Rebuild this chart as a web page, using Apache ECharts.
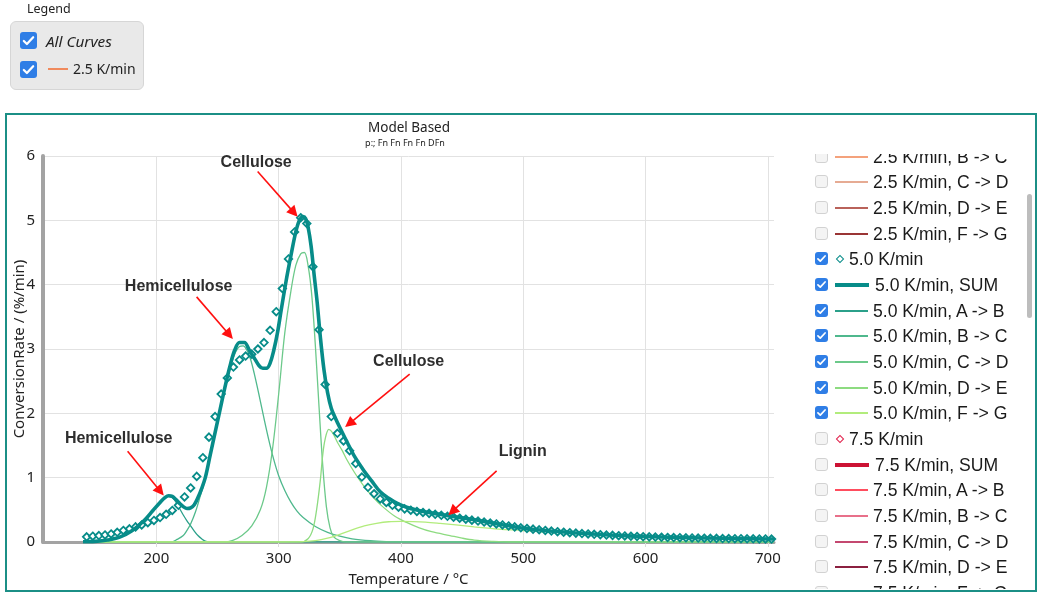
<!DOCTYPE html>
<html><head><meta charset="utf-8">
<script src="https://cdn.jsdelivr.net/npm/echarts@6/dist/echarts.min.js"></script>
<style>
html,body{margin:0;padding:0;background:#fff;width:1038px;height:595px;overflow:hidden;font-family:"Noto Sans",sans-serif;}
#chart{position:absolute;left:0;top:0;width:1038px;height:595px;}
#frame{position:absolute;left:5px;top:113px;width:1028px;height:475px;border:2px solid #1b8f86;pointer-events:none;}
#legTitle{position:absolute;left:27px;top:0px;font-size:12.5px;color:#222;line-height:17px;}
#legBox{position:absolute;left:10px;top:21px;width:134px;height:69px;background:#e9e9e9;border:1px solid #d6d6d6;border-radius:6px;box-sizing:border-box;}
.cb{position:absolute;box-sizing:border-box;border-radius:3px;}
.cb.on{background:#2f7ee6;}
.cb.off{background:#f4f4f4;border:1px solid #d2d2d2;}
.cb svg{position:absolute;left:0;top:0;width:100%;height:100%;}
.txt{position:absolute;white-space:nowrap;color:#222;}
.ln{position:absolute;}
.dia{position:absolute;box-sizing:border-box;background:#fff;transform:rotate(45deg);}
#rleg{position:absolute;left:800px;top:154px;width:225px;height:435px;overflow:hidden;}
#scroll{position:absolute;left:1027px;top:194px;width:5px;height:124px;background:#bdbdbd;border-radius:3px;}
</style></head>
<body>
<div id="chart"></div>
<div id="frame"></div>
<div id="legTitle">Legend</div>
<div id="legBox"></div>
<div id="rleg"></div>
<div id="scroll"></div>
<script>
// ---------- data ----------
const measuredT = [143,148,153,158,163,168,173,178,183,188,
193,198,203,208,213,218,223,228,233,238,
243,248,253,258,263,268,273,278,283,288,
293,298,303,308,313,318,323,328,333,338,
343,348,353,358,363,368,373,378,383,388,
393,398,403,408,413,418,423,428,433,438,
443,448,453,458,463,468,473,478,483,488,
493,498,503,508,513,518,523,528,533,538,
543,548,553,558,563,568,573,578,583,588,
593,598,603,608,613,618,623,628,633,638,
643,648,653,658,663,668,673,678,683,688,
693,698,703];
const measuredRate = [0.08,0.09,0.10,0.11,0.125,0.15,0.18,0.205,0.235,0.265,
0.30,0.335,0.38,0.43,0.49,0.57,0.70,0.84,1.02,1.31,
1.63,1.95,2.30,2.55,2.72,2.83,2.89,2.92,3.00,3.10,
3.29,3.58,3.94,4.40,4.82,5.04,4.95,4.28,3.30,2.45,
1.95,1.69,1.57,1.42,1.22,1.01,0.85,0.75,0.67,0.615,
0.57,0.54,0.515,0.495,0.475,0.46,0.445,0.43,0.415,0.40,
0.385,0.37,0.355,0.34,0.325,0.31,0.295,0.28,0.265,0.25,
0.235,0.22,0.21,0.20,0.19,0.18,0.17,0.16,0.152,0.145,
0.138,0.131,0.125,0.119,0.113,0.108,0.103,0.098,0.094,0.09,
0.086,0.083,0.08,0.077,0.074,0.071,0.069,0.067,0.065,0.063,
0.061,0.059,0.057,0.056,0.054,0.053,0.052,0.051,0.05,0.049,
0.048,0.047,0.046];

const sumT = [140,150,160,170,180,190,197,203,207,210,213,216,219,222,225,228,231,234,237,240,244,248,252,256,260,264,268,272,276,280,284,287,290,293,296,299,302,306,310,314,317,320,322,324,326.5,329,331.5,334,337,340,343,346.5,350,356,362,370,376,383,390,397,404,412,420,430,440,450,460,470,480,490,500,520,540,560,580,600,625,650,675,705];
const sumRate = [0.005,0.01,0.03,0.075,0.175,0.335,0.485,0.615,0.69,0.72,0.71,0.66,0.6,0.55,0.52,0.53,0.58,0.69,0.83,1.0,1.35,1.7,2.05,2.4,2.72,2.98,3.1,3.1,2.98,2.86,2.74,2.7,2.7,2.78,2.98,3.25,3.6,4.05,4.45,4.82,5.0,5.06,5.03,4.9,4.6,4.15,3.72,3.2,2.68,2.32,2.08,1.92,1.78,1.55,1.33,1.1,0.95,0.78,0.68,0.6,0.545,0.5,0.465,0.435,0.405,0.375,0.345,0.31,0.275,0.245,0.215,0.175,0.145,0.12,0.1,0.085,0.072,0.062,0.054,0.046];

const abT = [140,150,160,170,180,190,197,203,207,210,213,216,219,222,225,228,231,234,237,240,244,260,705];
const abRate = [0,0.005,0.025,0.07,0.17,0.33,0.48,0.61,0.68,0.71,0.69,0.62,0.52,0.42,0.33,0.25,0.17,0.10,0.05,0.015,0,0,0];

const bcT = [140,200,212,217,222,225,228,232,236,240,244,248,252,256,260,264,268,271,274,277,280,284,288,292,296,300,305,310,315,320,330,340,350,360,375,390,400,705];
const bcRate = [0,0,0,0.04,0.1,0.18,0.28,0.47,0.72,0.98,1.32,1.68,2.03,2.38,2.68,2.92,3.04,3.05,2.98,2.84,2.62,2.28,1.92,1.58,1.28,1.03,0.8,0.62,0.48,0.38,0.24,0.15,0.09,0.05,0.02,0.005,0,0];

const cdT = [140,245,255,262,270,278,285,290,295,300,305,310,314,318,321,324,327,330,333,336,339,342,345,350,355,705];
const cdRate = [0,0,0,0.02,0.1,0.25,0.5,0.85,1.45,2.3,3.25,3.9,4.3,4.48,4.5,4.3,3.85,3.05,2.1,1.2,0.55,0.22,0.08,0.02,0,0];

const deT = [140,310,318,324,328,331,334,336,338,341,344,348,352,356,362,370,378,385,395,405,415,425,440,450,460,475,490,705];
const deRate = [0,0,0,0.05,0.2,0.5,0.95,1.35,1.6,1.75,1.7,1.55,1.42,1.27,1.08,0.86,0.68,0.55,0.4,0.3,0.22,0.16,0.1,0.06,0.03,0.01,0,0];

const fgT = [140,300,320,330,340,350,360,370,380,390,400,410,420,432,445,460,480,500,520,540,560,580,600,625,650,675,705];
const fgRate = [0,0,0.005,0.02,0.06,0.12,0.19,0.25,0.29,0.315,0.32,0.318,0.31,0.29,0.265,0.235,0.2,0.178,0.15,0.125,0.105,0.09,0.077,0.063,0.05,0.04,0.03];

const componentNames = ['5.0 K/min, A -> B','5.0 K/min, B -> C','5.0 K/min, C -> D','5.0 K/min, D -> E','5.0 K/min, F -> G'];

const annotationText = ['Cellulose','Hemicellulose','Cellulose','Hemicellulose','Lignin'];
const annotationAt = [[281.6,5.89],[218.2,3.975],[406.3,2.80],[169.2,1.615],[499.5,1.40]];
const arrowFrom = [[282.8,5.76],[232.9,3.81],[407.1,2.61],[176.5,1.41],[478.2,1.105]];
const arrowTo = [[312.5,5.12],[259.6,3.22],[357.8,1.84],[203.2,0.79],[442.0,0.475]];

// legend entries (right panel)
const legendLabels = ['2.5 K/min, B -> C','2.5 K/min, C -> D','2.5 K/min, D -> E','2.5 K/min, F -> G',
'5.0 K/min','5.0 K/min, SUM','5.0 K/min, A -> B','5.0 K/min, B -> C','5.0 K/min, C -> D','5.0 K/min, D -> E','5.0 K/min, F -> G',
'7.5 K/min','7.5 K/min, SUM','7.5 K/min, A -> B','7.5 K/min, B -> C','7.5 K/min, C -> D','7.5 K/min, D -> E','7.5 K/min, F -> G'];
const legendKinds = ['line','line','line','line','marker','sum','line','line','line','line','line','marker','sum','line','line','line','line','line'];
const legendChecked = [0,0,0,0,1,1,1,1,1,1,1,0,0,0,0,0,0,0];

// ---------- styles ----------
const TEAL = '#078c89';
const compColors = ['#2ba08a','#4fb88d','#6cc98a','#8ddb80','#b2ec7c'];
const legendColors = ['#f4a27c','#e6ab93','#b9625a','#9a3535',
TEAL,TEAL,'#2ba08a','#4fb88d','#6cc98a','#8ddb80','#b2ec7c',
'#e0204a','#cc1234','#ff4d5e','#e8708a','#c44870','#8b2040','#6b1030'];

const CHECK = '<svg viewBox="0 0 16 16"><path d="M3.6 8.4l2.9 2.9 5.9-6.4" stroke="#fff" stroke-width="2.1" fill="none" stroke-linecap="round" stroke-linejoin="round"/></svg>';
function cb(on, x, y, s){ return '<span class="cb '+(on?'on':'off')+'" style="left:'+x+'px;top:'+y+'px;width:'+s+'px;height:'+s+'px">'+(on?CHECK:'')+'</span>'; }

// top-left legend
document.getElementById('legBox').innerHTML =
  cb(1,9,10,17) + '<span class="txt" style="left:35px;top:9px;font-size:15.3px;font-style:italic;line-height:20px">All Curves</span>' +
  cb(1,9,39,17) + '<span class="ln" style="left:37px;top:46px;width:20px;height:2px;background:#f08a5d"></span>' +
  '<span class="txt" style="left:62px;top:37px;font-size:14px;line-height:20px">2.5 K/min</span>';

// right legend (container top = 154 page px)
(function(){
  let h='';
  const step=25.67, c0=1.5;
  legendLabels.forEach((lab,i)=>{
    const cy=Math.round(c0+i*step);
    h+=cb(legendChecked[i],15,cy-6,13);
    const col=legendColors[i];
    let tx=73;
    if(legendKinds[i]==='line'){
      h+='<span class="ln" style="left:35px;top:'+(cy)+'px;width:33px;height:1.5px;background:'+col+'"></span>';
    } else if(legendKinds[i]==='sum'){
      h+='<span class="ln" style="left:35px;top:'+(cy-1)+'px;width:34px;height:4px;background:'+col+'"></span>';
      tx=75;
    } else {
      h+='<span class="dia" style="left:37px;top:'+(cy-2)+'px;width:6px;height:6px;border:1.6px solid '+col+'"></span>';
      tx=49;
    }
    h+='<span class="txt" style="left:'+tx+'px;top:'+(cy-11)+'px;font-family:\'Liberation Sans\',sans-serif;font-size:17.6px;line-height:24px;color:#1a1a1a">'+lab+'</span>';
  });
  document.getElementById('rleg').innerHTML=h;
})();

// ---------- chart ----------
const zip=(a,b)=>a.map((v,i)=>[v,b[i]]);
const compT=[abT,bcT,cdT,deT,fgT], compR=[abRate,bcRate,cdRate,deRate,fgRate];

const series=[];
componentNames.forEach((n,i)=>{
  series.push({name:n,type:'line',data:zip(compT[i],compR[i]),showSymbol:false,symbol:'none',smooth:0.35,
    lineStyle:{color:compColors[i],width:1.3},itemStyle:{color:compColors[i]},z:2,silent:true});
});
series.push({name:'5.0 K/min',type:'scatter',data:zip(measuredT,measuredRate),symbol:'diamond',symbolSize:7.5,
  itemStyle:{color:'#ffffff',borderColor:TEAL,borderWidth:1.8,opacity:1},z:3,silent:true});
series.push({name:'5.0 K/min, SUM',type:'line',data:zip(sumT,sumRate),showSymbol:false,symbol:'none',smooth:0.35,
  lineStyle:{color:TEAL,width:3.6},z:4,silent:true});
series.push({name:'annotations',type:'scatter',data:annotationAt.map((p,i)=>[p[0],p[1],annotationText[i]]),
  symbolSize:1,itemStyle:{color:'rgba(0,0,0,0)',opacity:1},z:5,silent:true,
  label:{show:true,position:'inside',formatter:p=>p.data[2],fontFamily:'Liberation Sans',fontWeight:'bold',fontSize:16,color:'#2e2e2e',opacity:1},
  markLine:{silent:true,symbol:['none','triangle'],symbolSize:11,animation:false,
    lineStyle:{color:'#ff1010',width:1.6,type:'solid',opacity:1},label:{show:false},emphasis:{disabled:true},
    data:arrowFrom.map((f,i)=>[{coord:f},{coord:arrowTo[i]}])}});

const chart=echarts.init(document.getElementById('chart'),null,{renderer:'canvas'});
chart.setOption({
  animation:false,
  backgroundColor:'transparent',
  textStyle:{fontFamily:'Noto Sans'},
  graphic:[
    {type:'text',x:409,y:128,silent:true,style:{text:'Model Based',font:'13.5px "Noto Sans"',fill:'#222',align:'center',verticalAlign:'middle'}},
    {type:'text',x:405,y:143.5,silent:true,style:{text:'p:; Fn Fn Fn Fn DFn',font:'9px "Noto Sans"',fill:'#222',align:'center',verticalAlign:'middle'}}
  ],
  grid:{left:43,top:156,width:731,height:386,outerBoundsMode:'none',containLabel:false},
  xAxis:{type:'value',min:107.3,max:705,name:'Temperature / °C',nameLocation:'middle',nameGap:30,nameMoveOverlap:false,
    nameTextStyle:{fontSize:15,color:'#222'},
    axisLine:{show:true,onZero:false,lineStyle:{color:'#a3a3a3',width:3}},
    axisTick:{show:true,length:5,lineStyle:{color:'#dcdcdc'}},
    axisLabel:{fontSize:15,color:'#222',margin:9,showMinLabel:false,showMaxLabel:false},
    splitLine:{show:true,showMinLine:false,showMaxLine:false,lineStyle:{color:'#e2e2e2',width:1}}},
  yAxis:{type:'value',min:0,max:6,interval:1,name:'ConversionRate / (%/min)',nameLocation:'middle',nameGap:16,nameMoveOverlap:false,
    nameTextStyle:{fontSize:15,color:'#222'},
    axisLine:{show:true,lineStyle:{color:'#a3a3a3',width:4}},
    axisTick:{show:false},
    axisLabel:{fontSize:15,color:'#222',margin:8},
    splitLine:{show:true,lineStyle:{color:'#e2e2e2',width:1}}},
  series:series
});
</script>
</body></html>
